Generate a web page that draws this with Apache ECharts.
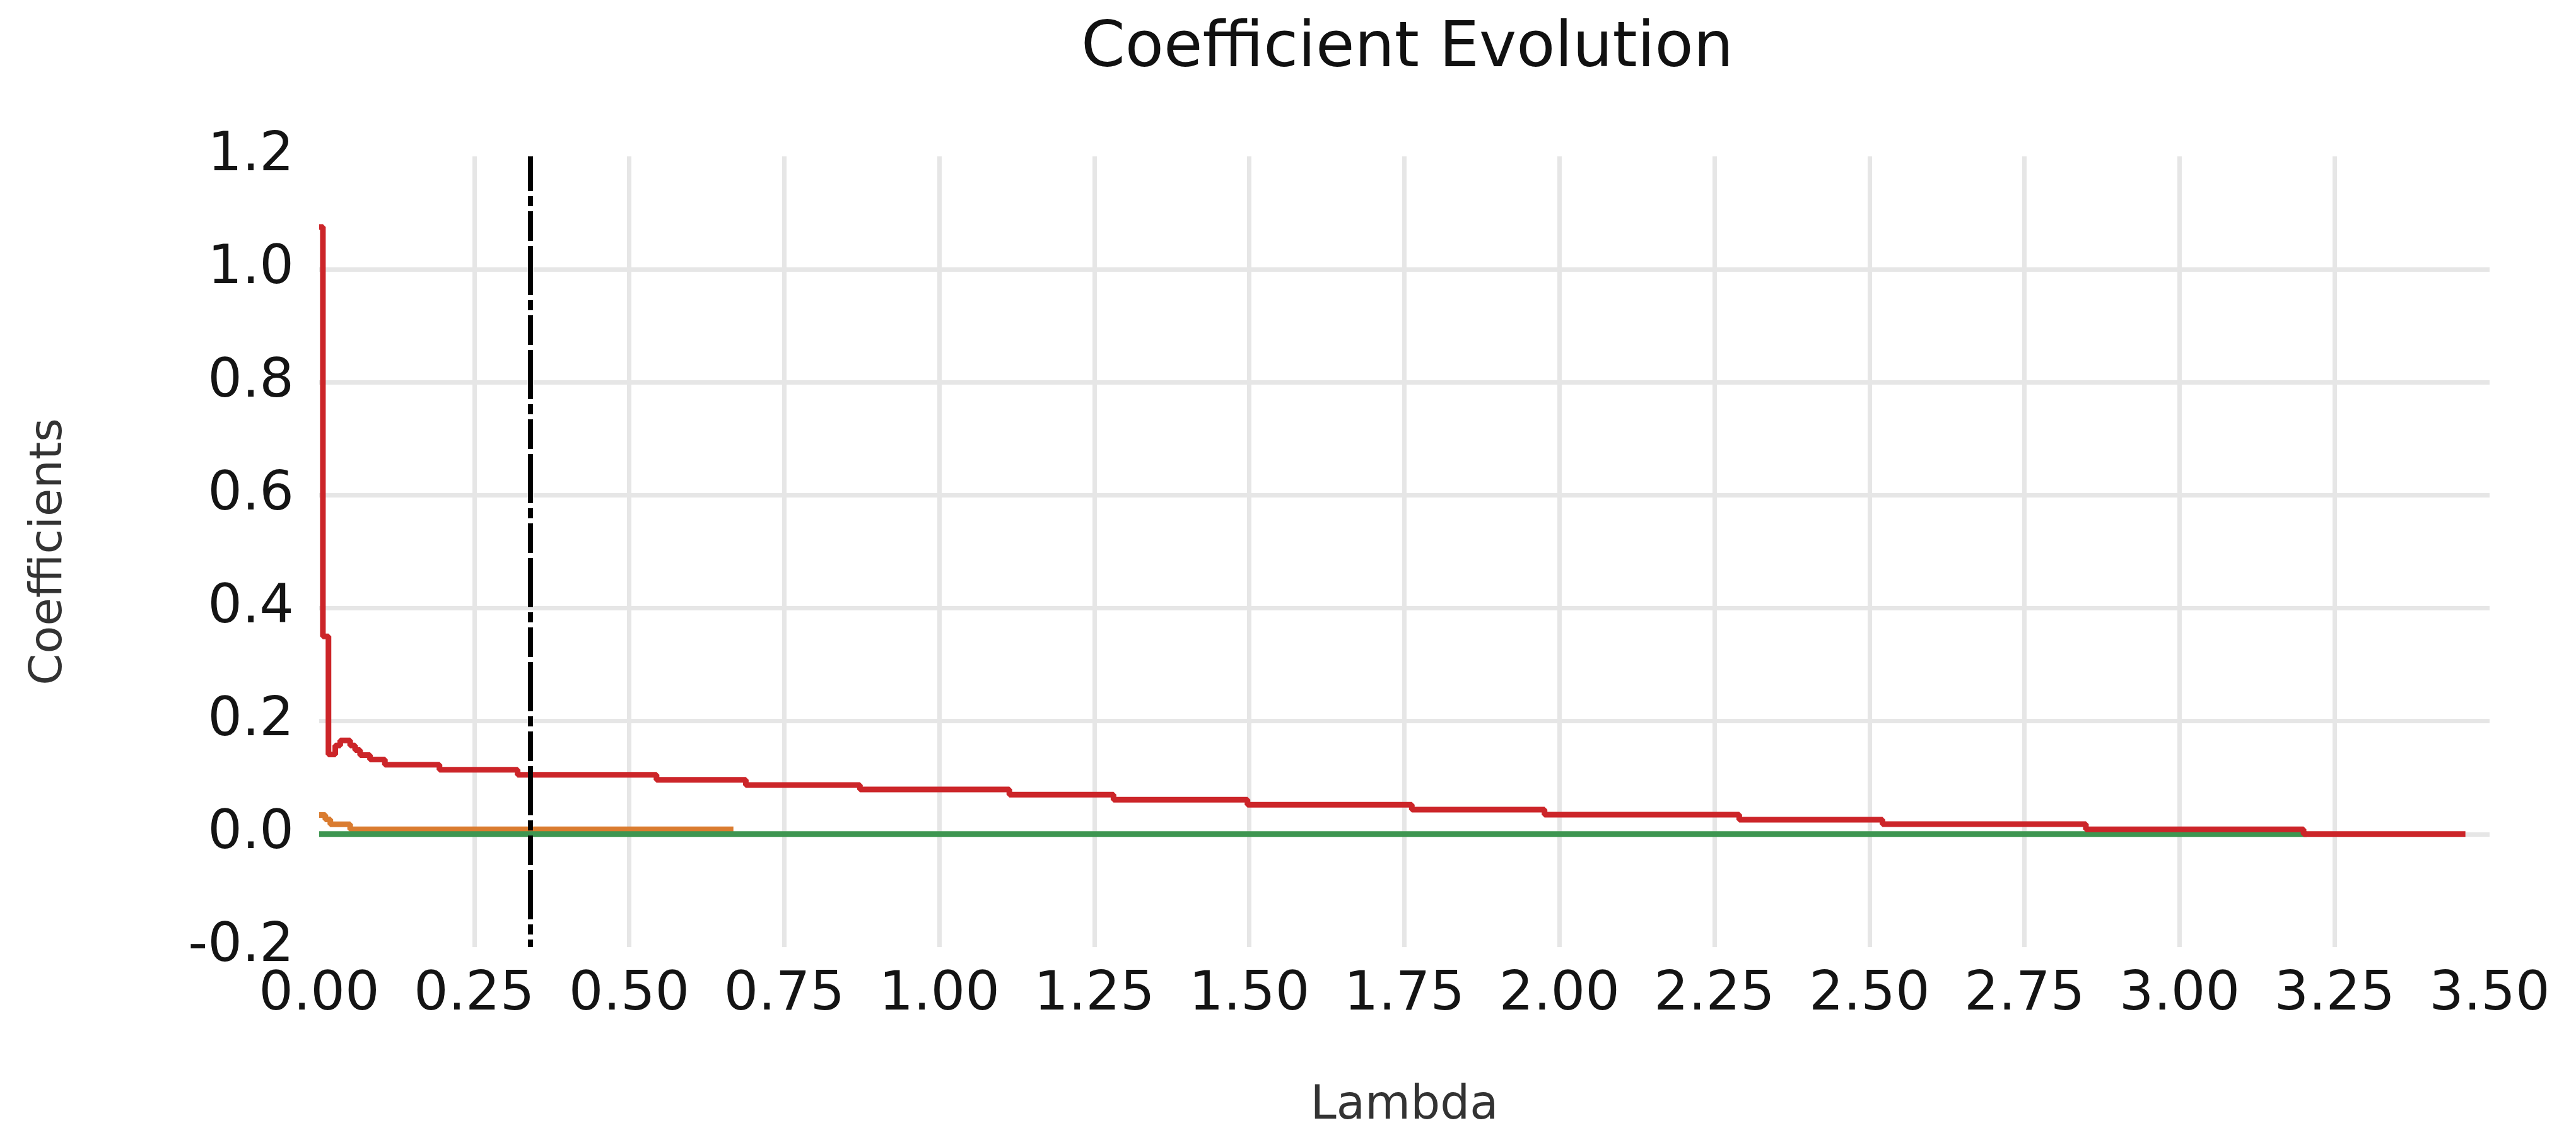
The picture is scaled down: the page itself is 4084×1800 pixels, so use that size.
<!DOCTYPE html>
<html>
<head>
<meta charset="utf-8">
<script src="https://cdn.jsdelivr.net/npm/echarts@6/dist/echarts.min.js"></script>
<style>
html, body { margin: 0; padding: 0; background: #ffffff; }
#chart { width: 4084px; height: 1800px; }
</style>
</head>
<body>
<div id="chart"></div>
<script>
// ---- Data ----
const chartTitle = 'Coefficient Evolution';
const xAxisName = 'Lambda';
const yAxisName = 'Coefficients';

// x axis: Lambda, ticks 0.00 .. 3.50 step 0.25
const xMin = 0, xMax = 3.5, xStep = 0.25;
// y axis: Coefficients, ticks -0.2 .. 1.2 step 0.2
const yMin = -0.2, yMax = 1.2, yStep = 0.2;

// Selected lambda (vertical dash-dot line)
const selectedLambda = 0.338;

// Red coefficient path: value holds from lambda[i] until lambda[i+1]
const redLambda = [0.000, 0.006, 0.015, 0.026, 0.034, 0.050, 0.058, 0.066, 0.082, 0.106,
                   0.194, 0.320, 0.544, 0.688, 0.872, 1.113, 1.281, 1.497, 1.762, 1.976,
                   2.290, 2.521, 2.849, 3.200, 3.461];
const redValue  = [1.075, 0.350, 0.141, 0.157, 0.166, 0.157, 0.149, 0.140, 0.132, 0.123,
                   0.114, 0.105, 0.096, 0.087, 0.079, 0.070, 0.061, 0.052, 0.0435, 0.0345,
                   0.0256, 0.0177, 0.0085, 0.000, 0.000];

// Orange coefficient path
const orangeLambda = [0.000, 0.010, 0.018, 0.050, 0.668];
const orangeValue  = [0.034, 0.026, 0.0175, 0.0086, 0.0086];

// Green coefficient path (stays at zero)
const greenLambda = [0.000, 3.205];
const greenValue  = [0.000, 0.000];

const seriesNames = ['Coefficient 1', 'Coefficient 2', 'Coefficient 3'];
const seriesColors = ['#CC2529', '#DA7C30', '#3E9651'];

// ---- Build chart ----
function pairs(xs, ys) { return xs.map((x, i) => [x, ys[i]]); }

const FONT = 'DejaVu Sans';
const chart = echarts.init(document.getElementById('chart'), null, { renderer: 'canvas' });

const option = {
  animation: false,
  backgroundColor: '#ffffff',
  title: {
    text: chartTitle,
    left: 2226,
    textAlign: 'center',
    top: 24,
    textStyle: { fontFamily: FONT, fontSize: 100, fontWeight: 'normal', color: '#111111' }
  },
  grid: { left: 506, right: 137, top: 248, bottom: 298, containLabel: false },
  xAxis: {
    type: 'value',
    min: xMin, max: xMax, interval: xStep,
    name: xAxisName,
    nameLocation: 'middle',
    nameGap: 216,
    nameTextStyle: { fontFamily: FONT, fontSize: 74, color: '#333333' },
    axisLine: { show: false },
    axisTick: { show: false },
    axisLabel: {
      fontFamily: FONT, fontSize: 86, color: '#141414', margin: 34,
      formatter: v => (Math.abs(v) < 1e-9 ? 0 : v).toFixed(2)
    },
    splitLine: {
      show: true, showMinLine: false, showMaxLine: false,
      lineStyle: { color: '#e6e6e6', width: 7 }
    }
  },
  yAxis: {
    type: 'value',
    min: yMin, max: yMax, interval: yStep,
    name: yAxisName,
    nameLocation: 'middle',
    nameGap: 392,
    nameTextStyle: { fontFamily: FONT, fontSize: 72, color: '#333333' },
    axisLine: { show: false },
    axisTick: { show: false },
    axisLabel: {
      fontFamily: FONT, fontSize: 86, color: '#141414', margin: 40,
      padding: [0, 0, 36, 0],
      formatter: v => (Math.abs(v) < 1e-9 ? 0 : v).toFixed(1)
    },
    splitLine: {
      show: true, showMinLine: false, showMaxLine: false,
      lineStyle: { color: '#e6e6e6', width: 7 }
    }
  },
  series: [
    {
      name: seriesNames[1], type: 'line', step: 'end',
      data: pairs(orangeLambda, orangeValue),
      symbol: 'none', showSymbol: false, silent: true,
      emphasis: { disabled: true },
      lineStyle: { color: seriesColors[1], width: 9 }, z: 2
    },
    {
      name: seriesNames[2], type: 'line', step: 'end',
      data: pairs(greenLambda, greenValue),
      symbol: 'none', showSymbol: false, silent: true,
      emphasis: { disabled: true },
      lineStyle: { color: seriesColors[2], width: 9 }, z: 3
    },
    {
      name: seriesNames[0], type: 'line', step: 'end',
      data: pairs(redLambda, redValue),
      symbol: 'none', showSymbol: false, silent: true,
      emphasis: { disabled: true },
      lineStyle: { color: seriesColors[0], width: 9 }, z: 4,
      markLine: {
        silent: true,
        symbol: ['none', 'none'],
        label: { show: false },
        emphasis: { disabled: true },
        lineStyle: { color: '#000000', width: 8, type: [78, 8, 47, 8, 16, 8], dashOffset: 121 },
        data: [{ xAxis: selectedLambda }]
      }
    }
  ]
};

chart.setOption(option);
</script>
</body>
</html>
